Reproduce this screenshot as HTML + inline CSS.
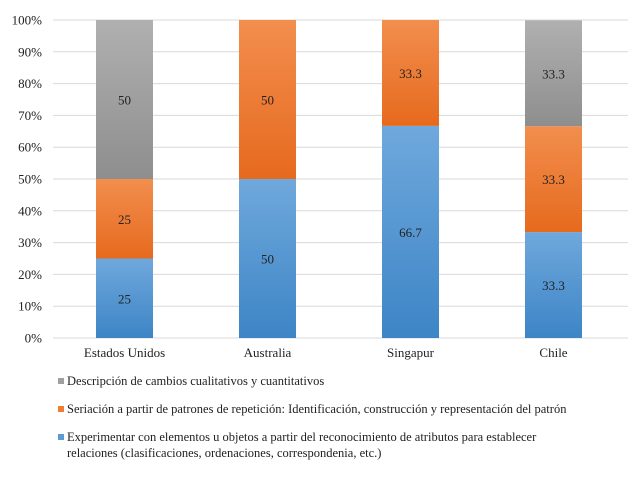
<!DOCTYPE html>
<html><head><meta charset="utf-8"><style>
body{margin:0;background:#fff;}
svg{display:block;font-family:"Liberation Serif",serif;}
</style></head><body>
<svg id="chart" width="638" height="478" viewBox="0 0 638 478" xmlns="http://www.w3.org/2000/svg">
<defs>
<linearGradient id="gBlue" x1="0" y1="0" x2="0" y2="1"><stop offset="0" stop-color="#6fa8dc"/><stop offset="1" stop-color="#3d85c6"/></linearGradient>
<linearGradient id="gOrange" x1="0" y1="0" x2="0" y2="1"><stop offset="0" stop-color="#f28e4e"/><stop offset="1" stop-color="#e66a1e"/></linearGradient>
<linearGradient id="gGray" x1="0" y1="0" x2="0" y2="1"><stop offset="0" stop-color="#b0b0b0"/><stop offset="1" stop-color="#8e8e8e"/></linearGradient>
</defs>
<g id="grid"></g><g id="bars"></g><g id="labels"></g><g id="legend"></g>
</svg>
<script>
const categories=["Estados Unidos","Australia","Singapur","Chile"];
const blueVals=[25,50,66.7,33.3];
const orangeVals=[25,50,33.3,33.3];
const grayVals=[50,0,0,33.3];
const blueLabels=["25","50","66.7","33.3"];
const orangeLabels=["25","50","33.3","33.3"];
const grayLabels=["50","","","33.3"];
const yTicks=[0,10,20,30,40,50,60,70,80,90,100];

const NS="http://www.w3.org/2000/svg";
const x0=53,x1=625,yTop=20,yBot=338;
const y=v=>yBot-(v/100)*(yBot-yTop);
const band=(x1-x0)/categories.length;
const cx=i=>x0+band*(i+0.5);
const bw=57;
function mk(tag,attrs,parent){const e=document.createElementNS(NS,tag);for(const k in attrs)e.setAttribute(k,attrs[k]);parent.appendChild(e);return e;}
const grid=document.getElementById('grid'),bars=document.getElementById('bars'),labels=document.getElementById('labels'),legend=document.getElementById('legend');
yTicks.forEach(t=>{
  const l=mk('line',{x1:x0,x2:628,y1:y(t),y2:y(t),stroke:'#d9d9d9','stroke-width':1},grid);
  
  
  const tx=mk('text',{x:42,y:y(t)+4.5,'text-anchor':'end','font-size':13,fill:'#222'},labels);
  tx.textContent=t+'%';
  
  
});
const series=[[blueVals,blueLabels,'url(#gBlue)','blue'],[orangeVals,orangeLabels,'url(#gOrange)','orange'],[grayVals,grayLabels,'url(#gGray)','gray']];
categories.forEach((c,i)=>{
  let acc=0;
  series.forEach(s=>{
    const v=s[0][i];
    if(v>0){
      const r=mk('rect',{x:cx(i)-bw/2,y:y(acc+v),width:bw,height:y(acc)-y(acc+v),fill:s[2]},bars);
      
      
      const t=mk('text',{x:cx(i),y:(y(acc)+y(acc+v))/2+5,'text-anchor':'middle','font-size':13,fill:'#222'},labels);
      t.textContent=s[1][i];
      
      
    }
    acc+=v;
  });
  const ct=mk('text',{x:cx(i),y:357,'text-anchor':'middle','font-size':13,fill:'#222'},labels);
  ct.textContent=c;
  
  
});
const legItems=[
 ['#a0a0a0',385,['Descripción de cambios cualitativos y cuantitativos']],
 ['#ed7d31',413,['Seriación a partir de patrones de repetición: Identificación, construcción y representación del patrón']],
 ['#5b9bd5',441,['Experimentar con elementos u objetos a partir del reconocimiento de atributos para establecer','relaciones (clasificaciones, ordenaciones, correspondenia, etc.)']]
];
legItems.forEach((it,k)=>{
  const r=mk('rect',{x:58,y:it[1]-7,width:6,height:6,fill:it[0]},legend);
  
  
  it[2].forEach((line,j)=>{
    const t=mk('text',{x:67,y:it[1]+j*16,'font-size':12.5,fill:'#222'},legend);
    t.textContent=line;
    
    
  });
});
</script>
</body></html>
